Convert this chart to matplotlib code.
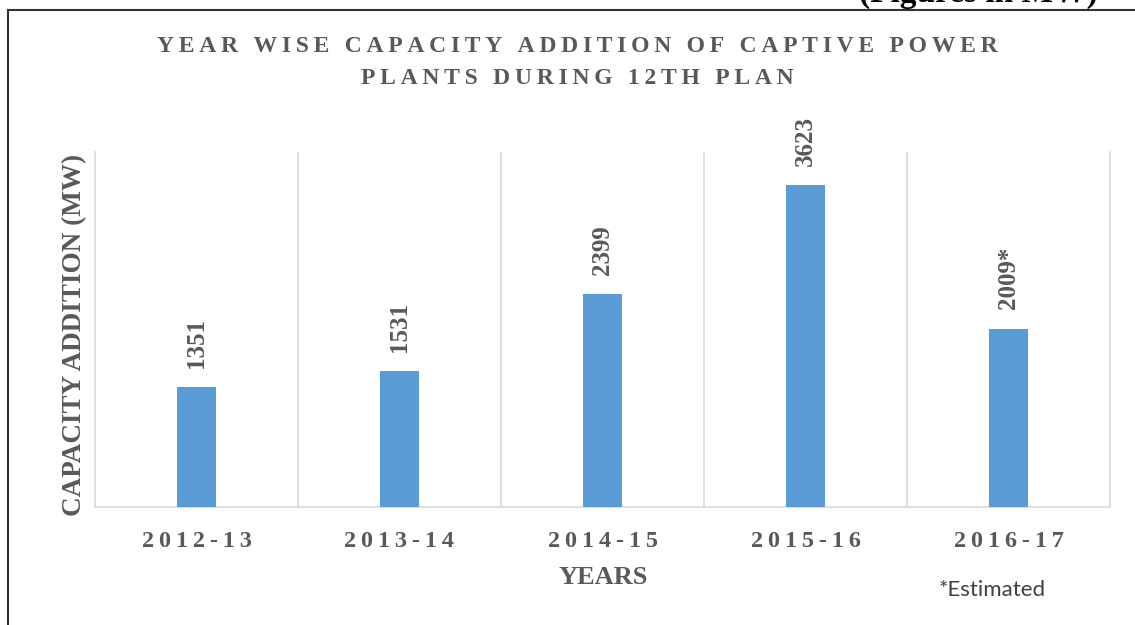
import matplotlib.pyplot as plt
from matplotlib.lines import Line2D

# Year wise capacity addition of captive power plants (MW)
years = ['2012-13', '2013-14', '2014-15', '2015-16', '2016-17']
capacity = [1351, 1531, 2399, 3623, 2009]
value_labels = ['1351', '1531', '2399', '3623', '2009*']

title_lines = ['YEAR WISE CAPACITY ADDITION OF CAPTIVE POWER',
               'PLANTS DURING 12TH PLAN']

bar_color = '#5B9BD5'
grid_color = '#D9D9D9'
text_color = '#595959'
serif = ['Liberation Serif', 'DejaVu Serif']


def spaced(s, sep='\u2009'):
    # widen the letter spacing with thin spaces
    return sep.join(s)


fig = plt.figure(figsize=(11.35, 6.25), dpi=100)
ax = fig.add_axes([95 / 1135, 1 - 507 / 625, 1015 / 1135, 355 / 625])

x = list(range(len(years)))
bars = ax.bar(x, capacity, width=0.19, color=bar_color, zorder=3)

ax.set_xlim(-0.5, len(years) - 0.5)
ax.set_ylim(0, 4000)
ax.set_yticks([])

# vertical gridlines between categories
ax.set_xticks([i + 0.5 for i in range(len(years) - 1)], minor=True)
ax.grid(axis='x', which='minor', color=grid_color, lw=1.2)
ax.tick_params(axis='x', which='both', length=0)
ax.set_xticks(x)
ax.set_xticklabels([spaced(y) for y in years], fontfamily=serif,
                   fontweight='bold', fontsize=17.5, color=text_color)
ax.tick_params(axis='x', pad=17)

for side in ['left', 'right', 'bottom']:
    ax.spines[side].set_color(grid_color)
    ax.spines[side].set_linewidth(1.2)
ax.spines['top'].set_visible(False)

# value labels above the bars
for rect, lab in zip(bars, value_labels):
    ax.annotate(lab, (rect.get_x() + rect.get_width() / 2, rect.get_height()),
                xytext=(0, 14), textcoords='offset points', rotation=90,
                ha='center', va='bottom', fontfamily=serif, fontweight='bold',
                fontsize=18, color=text_color)

# title
fig.text(577 / 1135, 1 - 47 / 625, spaced(title_lines[0]), ha='center',
         va='center', fontfamily=serif, fontweight='bold', fontsize=17,
         color=text_color)
fig.text(577 / 1135, 1 - 78 / 625, spaced(title_lines[1]), ha='center',
         va='center', fontfamily=serif, fontweight='bold', fontsize=17,
         color=text_color)

# axis titles
fig.text(75 / 1135, 1 - 335 / 625, 'CAPACITY ADDITION (MW)', rotation=90,
         ha='center', va='center', fontfamily=serif, fontweight='bold',
         fontsize=19.5, color=text_color)
fig.text(603 / 1135, 1 - 577 / 625, 'YEARS', ha='center', va='center',
         fontfamily=serif, fontweight='bold', fontsize=19, color=text_color)

fig.text(992 / 1135, 1 - 590 / 625, '*Estimated', ha='center', va='center',
         fontfamily='Lato', fontsize=16, color='#404040')

# page note (runs off the top edge) and outer frame
fig.text(978 / 1135, 1 - 1.5 / 625, '(Figures in MW)', ha='center',
         va='baseline', fontfamily=serif, fontweight='bold', fontsize=24,
         color='black')
fig.add_artist(Line2D([8 / 1135, 1], [1 - 10 / 625, 1 - 10 / 625],
                      color='#333333', lw=1.5, transform=fig.transFigure))
fig.add_artist(Line2D([8 / 1135, 8 / 1135], [0, 1 - 10 / 625],
                      color='#333333', lw=1.5, transform=fig.transFigure))

fig.savefig('out.png', dpi=100)
